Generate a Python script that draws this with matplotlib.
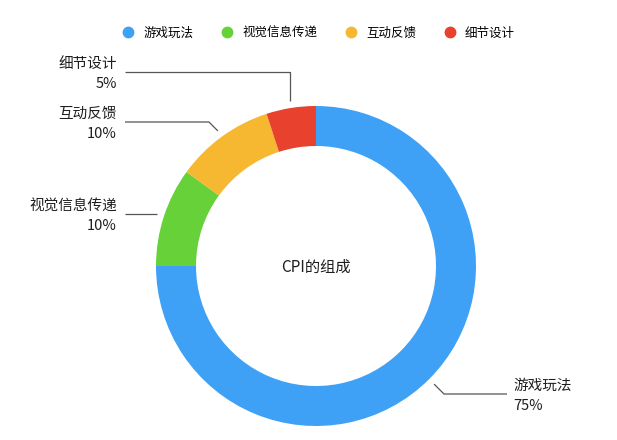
import numpy as np
import matplotlib
matplotlib.use('Agg')
import matplotlib.pyplot as plt
from matplotlib.lines import Line2D

plt.rcParams['font.family'] = ['Noto Sans CJK SC', 'DejaVu Sans']

# ============ 数据 ============
categories = ['游戏玩法', '视觉信息传递', '互动反馈', '细节设计']
values = [75, 10, 10, 5]
colors = ['#3FA1F6', '#67D13A', '#F6B731', '#E8422F']
center_title = 'CPI的组成'

# ============ 布局（像素，y 向下） ============
W, H = 617, 440
CX, CY = 316, 266
R_OUT = 160
RING = 40
LINE_GAP = 7          # 引导线起点离外圈距离
label_y = [394, None, 122, 72]   # None 表示水平引出
elbow_mode = ['diag', 'flat', 'diag', 'vert']
LEFT_LINE_X, LEFT_TEXT_X = 125, 117
RIGHT_LINE_X, RIGHT_TEXT_X = 507, 513
LINE_COLOR = '#555555'
TEXT_COLOR = '#1E1E1E'


def to_data(x, y):
    return x, H - y


fig = plt.figure(figsize=(W / 100, H / 100), dpi=100)
ax = fig.add_axes([0, 0, 1, 1])

wedges, _ = ax.pie(values, colors=colors, startangle=90, counterclock=False,
                   radius=R_OUT, center=to_data(CX, CY),
                   wedgeprops=dict(width=RING, linewidth=0))
ax.set_xlim(0, W)
ax.set_ylim(0, H)
ax.set_aspect('equal')
ax.axis('off')

ax.text(*to_data(CX, CY + 1), center_title, fontsize=11, ha='center',
        va='center', color=TEXT_COLOR)

# 引导线 + 标签
total = float(sum(values))
cum = 0.0
for i, (name, v) in enumerate(zip(categories, values)):
    mid = (cum + v / 2) / total * 2 * np.pi   # 从12点顺时针
    cum += v
    dx, dy = np.sin(mid), -np.cos(mid)        # 屏幕坐标方向
    ax_x = CX + (R_OUT + LINE_GAP) * dx
    ax_y = CY + (R_OUT + LINE_GAP) * dy
    ly = label_y[i]
    if ly is None:
        ly = ax_y
    if elbow_mode[i] == 'diag':
        ex = ax_x + np.sign(dx) * abs(ly - ax_y)
    else:
        ex = ax_x
    right = ax_x > CX
    end_x = RIGHT_LINE_X if right else LEFT_LINE_X
    xs = [ax_x, ex, end_x]
    ys = [H - ax_y, H - ly, H - ly]
    ax.plot(xs, ys, color=LINE_COLOR, linewidth=0.9, solid_capstyle='butt')
    tx = RIGHT_TEXT_X if right else LEFT_TEXT_X
    ha = 'left' if right else 'right'
    ax.text(*to_data(tx, ly - 8), name, fontsize=10.5, ha=ha, va='center',
            color=TEXT_COLOR)
    ax.text(*to_data(tx, ly + 12), f'{int(v)}%', fontsize=10.5, ha=ha,
            va='center', color=TEXT_COLOR)

# 图例
handles = [Line2D([], [], linestyle='none', marker='o', markersize=7.5,
                  markerfacecolor=c, markeredgecolor=c) for c in colors]
fig.legend(handles, categories, loc='center', ncol=4, frameon=False,
           bbox_to_anchor=(319 / W, 1 - 33 / H), fontsize=9,
           handlelength=0.8, handletextpad=0.8, columnspacing=2.3)

fig.savefig('out.png', dpi=100, facecolor='white')
